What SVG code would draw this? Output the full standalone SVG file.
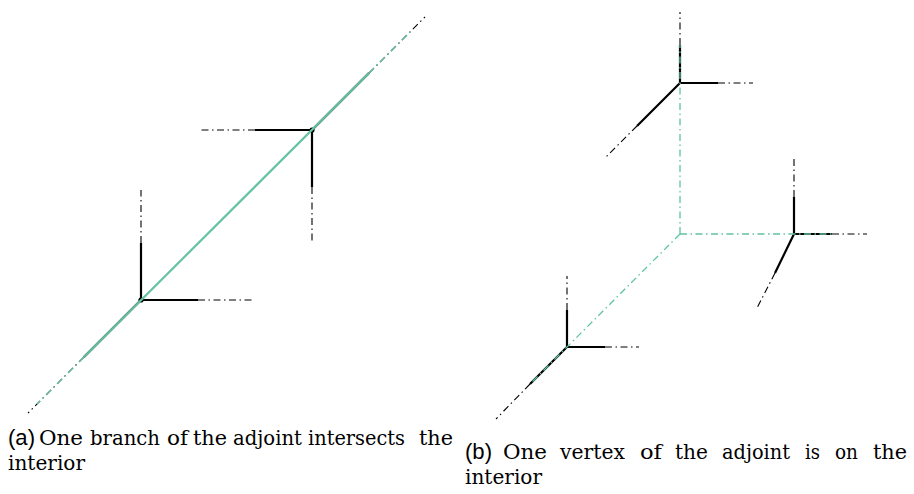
<svg xmlns="http://www.w3.org/2000/svg" width="914" height="494" viewBox="0 0 914 494">
<style>
.s{stroke:#000;stroke-width:2.2;fill:none;stroke-linecap:butt}
.d{stroke:#000;stroke-width:1.1;fill:none;stroke-dasharray:7 3.5 1.5 3.5}
.g{stroke:#66c2a5;stroke-width:2.2;fill:none}
.gd{stroke:#5fc2a0;stroke-width:1.3;fill:none;stroke-dasharray:7 3.5 1.5 3.5}
.cap text{font-family:"DejaVu Serif",serif;font-size:20px;fill:#000}
.cap text.lab{font-family:"Liberation Sans",Arial,sans-serif;font-size:22px}
</style>
<rect width="914" height="494" fill="#fff"/>
<!-- Panel (a) -->
<g id="a-v1">
<path class="s" d="M141 300V243M141 300H198M141 300L84 357"/>
<path class="d" d="M141 243V190M198 300H252M84 357L28 413"/>
<circle cx="141" cy="300" r="2.6" fill="#000"/>
</g>
<g id="a-v2">
<path class="s" d="M312 130H255M312 130V187M312 130L369 73"/>
<path class="d" d="M255 130H198M312 187V243M369 73L425 17"/>
<circle cx="312" cy="130" r="2.6" fill="#000"/>
</g>
<!-- Panel (b) -->
<g id="b-vA">
<path class="s" d="M680 83V45M680 83H718M680 83L637 126"/>
<path class="d" d="M680 45V12M718 83H753M637 126L605 158"/>
</g>
<g id="b-vB">
<path class="s" d="M794 234V197M794 234H832M794 234L775 273"/>
<path class="d" d="M794 197V159M832 234H867M775 273L756 310"/>
</g>
<g id="b-vC">
<path class="s" d="M567 347V310M567 347H605M567 347L530 384"/>
<path class="d" d="M567 310V276M605 347H639M530 384L496 419"/>
</g>
<g id="connectors">
<path class="g" d="M84 357L369 73"/>
<path class="gd" d="M369 73L412 30M84 357L37 404"/>
<path class="gd" d="M680 234V45M680 234H832M680 234L530 384"/>
</g>
<!-- Captions -->
<g id="caption-a" class="cap">
<text class="lab" x="8" y="445" textLength="27" lengthAdjust="spacingAndGlyphs">(a)</text>
<text x="39" y="445" textLength="44" lengthAdjust="spacingAndGlyphs">One</text>
<text x="90" y="445" textLength="70" lengthAdjust="spacingAndGlyphs">branch</text>
<text x="167" y="445" textLength="21" lengthAdjust="spacingAndGlyphs">of</text>
<text x="193" y="445" textLength="34" lengthAdjust="spacingAndGlyphs">the</text>
<text x="233" y="445" textLength="69" lengthAdjust="spacingAndGlyphs">adjoint</text>
<text x="308" y="445" textLength="97" lengthAdjust="spacingAndGlyphs">intersects</text>
<text x="419" y="445" textLength="34" lengthAdjust="spacingAndGlyphs">the</text>
<text x="8" y="470" textLength="77" lengthAdjust="spacingAndGlyphs">interior</text>
</g>
<g id="caption-b" class="cap">
<text class="lab" x="465" y="459" textLength="27" lengthAdjust="spacingAndGlyphs">(b)</text>
<text x="503" y="459" textLength="44" lengthAdjust="spacingAndGlyphs">One</text>
<text x="560" y="459" textLength="65" lengthAdjust="spacingAndGlyphs">vertex</text>
<text x="640" y="459" textLength="22" lengthAdjust="spacingAndGlyphs">of</text>
<text x="675" y="459" textLength="33" lengthAdjust="spacingAndGlyphs">the</text>
<text x="722" y="459" textLength="68" lengthAdjust="spacingAndGlyphs">adjoint</text>
<text x="805" y="459" textLength="15" lengthAdjust="spacingAndGlyphs">is</text>
<text x="835" y="459" textLength="23" lengthAdjust="spacingAndGlyphs">on</text>
<text x="873" y="459" textLength="34" lengthAdjust="spacingAndGlyphs">the</text>
<text x="465" y="484" textLength="77" lengthAdjust="spacingAndGlyphs">interior</text>
</g>
</svg>
